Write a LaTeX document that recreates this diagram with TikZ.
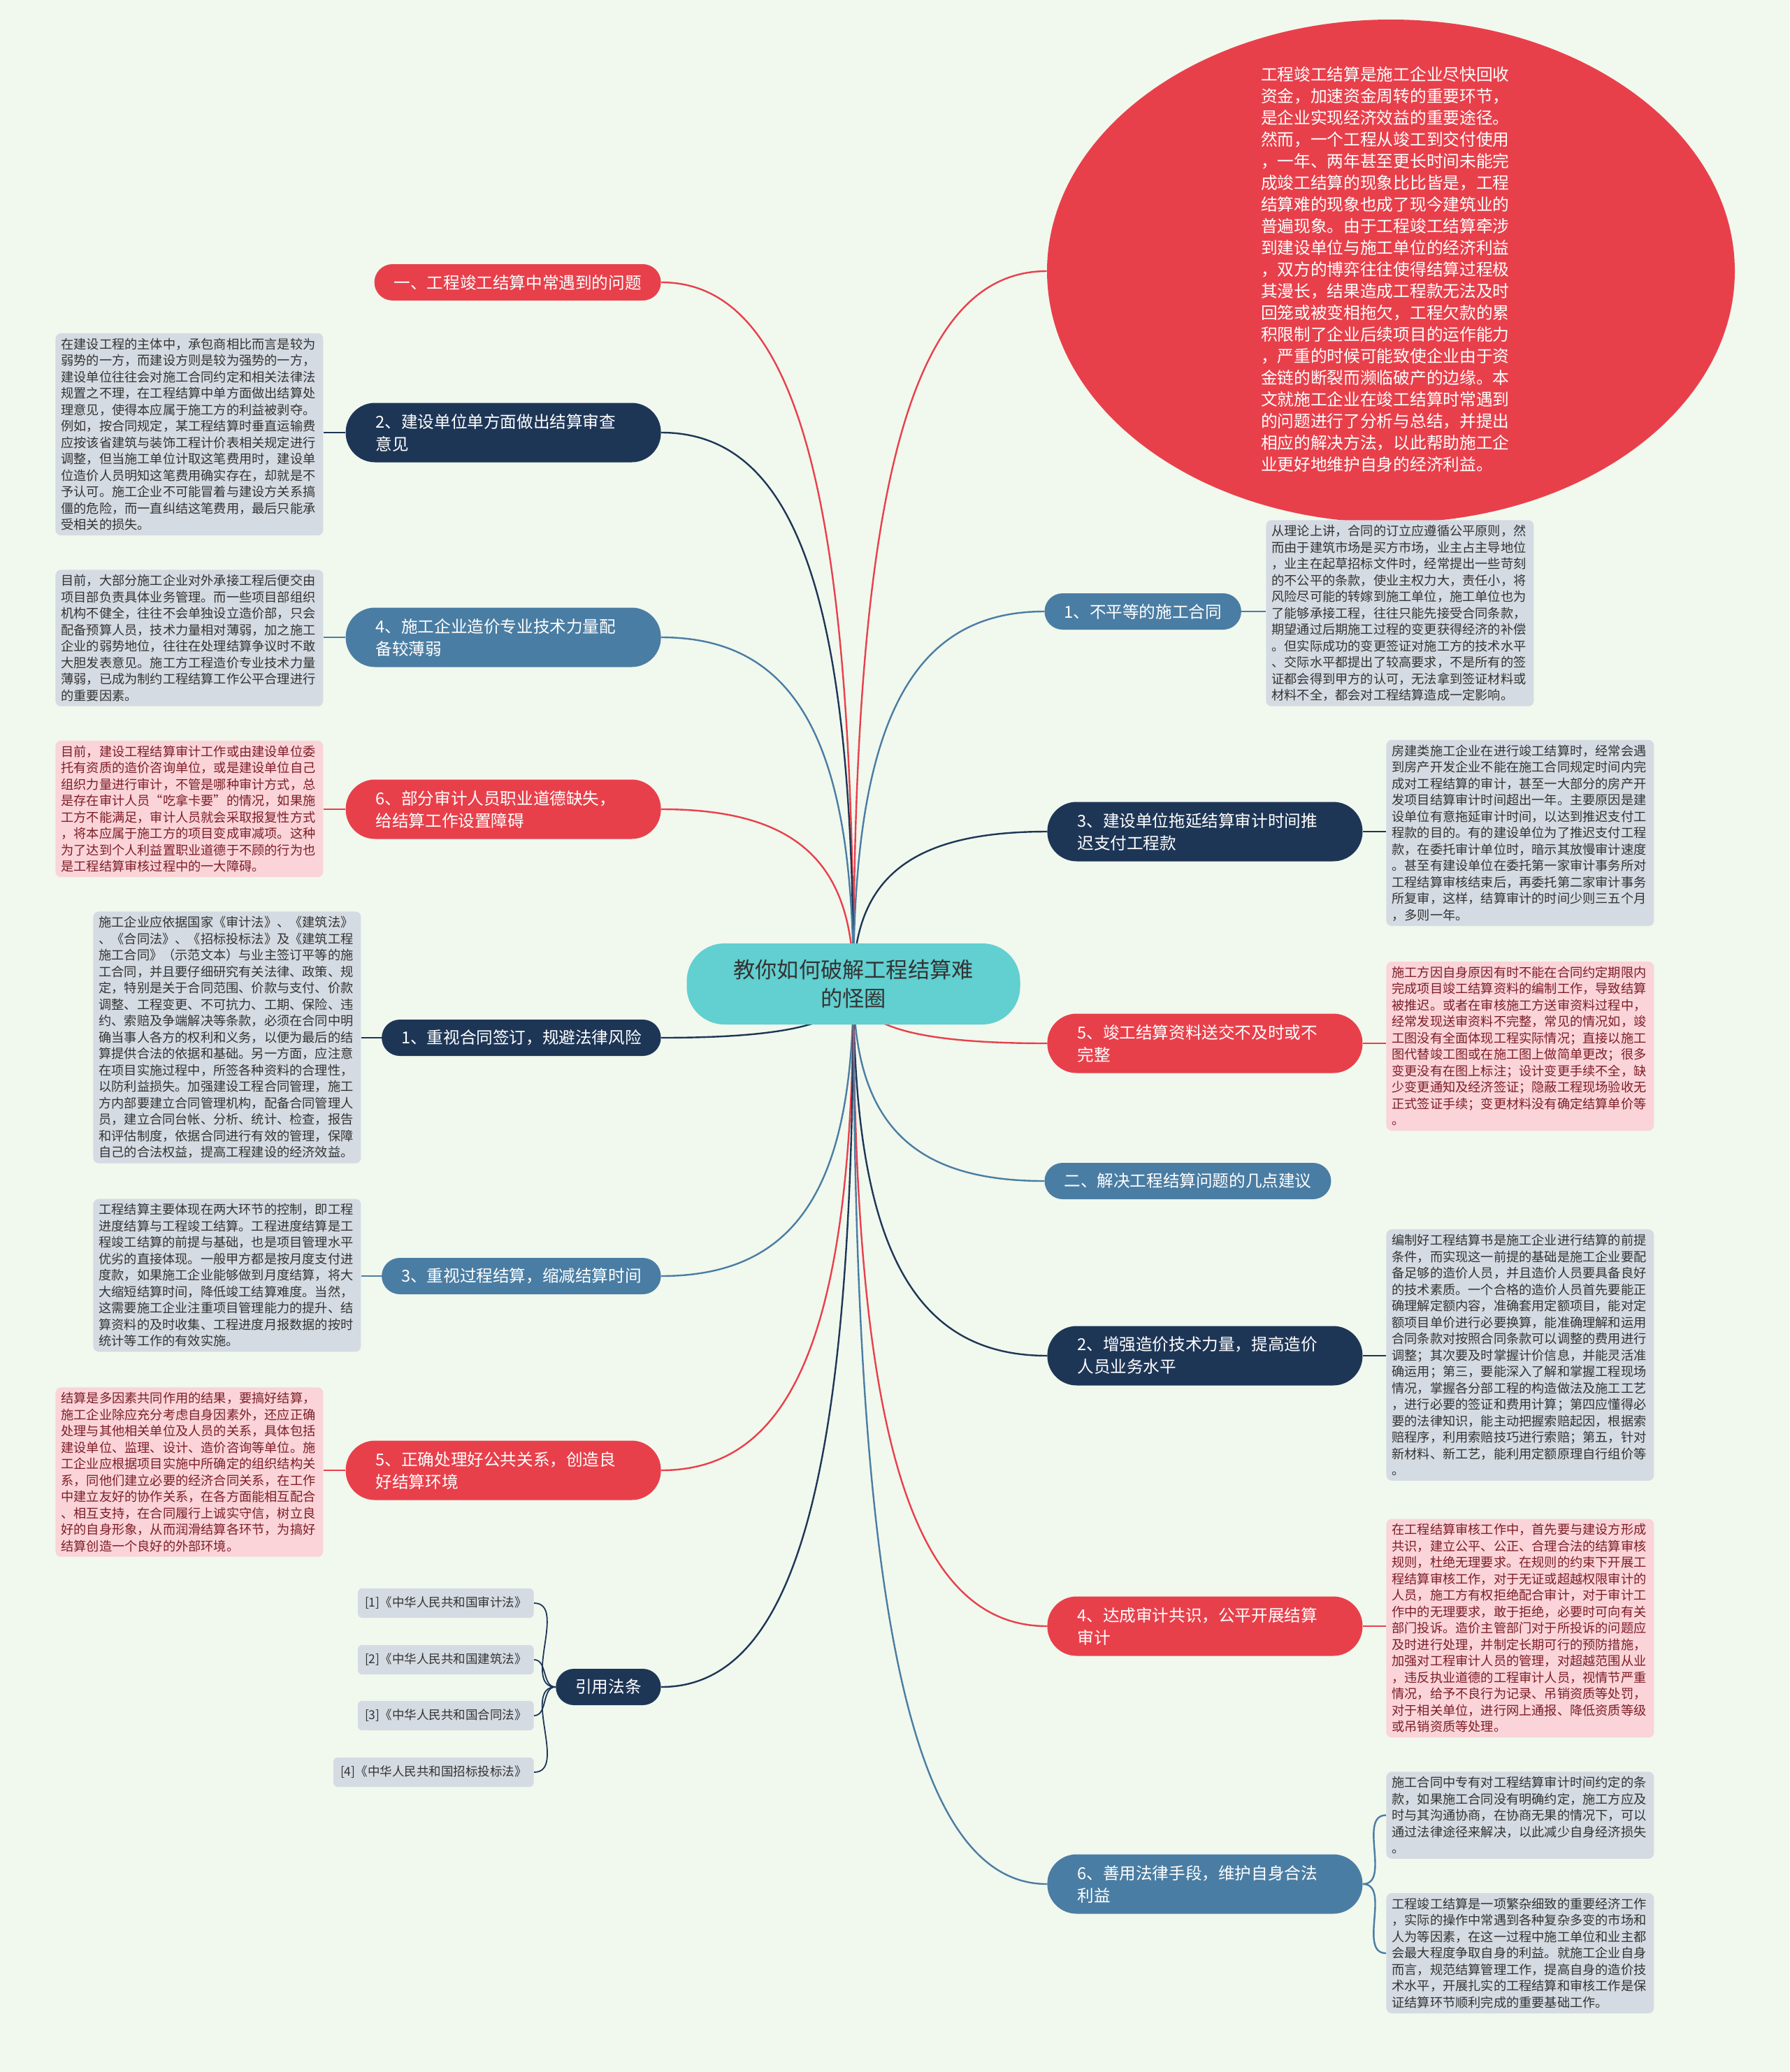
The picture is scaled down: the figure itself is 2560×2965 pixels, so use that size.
\documentclass[tikz,border=0pt]{standalone}
\usepackage{fontspec}
\setmainfont{Noto Sans CJK SC}
\usetikzlibrary{shapes.geometric,calc}
\pgfdeclarelayer{bg}\pgfdeclarelayer{edges}\pgfsetlayers{bg,edges,main}
\definecolor{bgcol}{RGB}{241,248,238}
\definecolor{mred}{RGB}{232,64,75}
\definecolor{mnavy}{RGB}{30,54,86}
\definecolor{mblue}{RGB}{74,125,163}
\definecolor{mteal}{RGB}{98,207,208}
\definecolor{boxgray}{RGB}{213,219,226}
\definecolor{boxpink}{RGB}{250,212,216}
\definecolor{txtgray}{RGB}{51,51,51}
\definecolor{txtpink}{RGB}{125,30,40}
\tikzset{
  pillbase/.style={text=white, font=\fontsize{11.8pt}{16pt}\selectfont, inner ysep=0pt},
  pillone/.style={pillbase, rounded corners=13pt, minimum height=26pt, inner xsep=14pt},
  pilltwo/.style={pillbase, rounded corners=21pt, minimum height=42.5pt, inner xsep=21.5pt, text width=182.5pt, align=left},
  boxbase/.style={rounded corners=4pt, inner xsep=4pt, inner ysep=3.5pt, text width=183.5pt, align=left, font=\fontsize{9.1pt}{11.75pt}\selectfont},
  gbox/.style={boxbase, fill=boxgray, text=txtgray},
  pbox/.style={boxbase, fill=boxpink, text=txtpink},
  refbox/.style={fill=boxgray, text=txtgray, rounded corners=3pt, font=\fontsize{8.75pt}{10pt}\selectfont, minimum height=21pt, inner xsep=5pt, inner ysep=0pt},
  ered/.style={draw=mred, line width=1.2pt},
  enavy/.style={draw=mnavy, line width=1.2pt},
  eblue/.style={draw=mblue, line width=1.2pt},
  ethin/.style={draw=mnavy, line width=0.9pt}
}
\newcommand\myconn[2]{\draw[#1] (c.center) .. controls ($(c.center)!0.7!(c.center|-#2)$) and ($(#2)!0.7!(#2-|c.center)$) .. (#2);}
\begin{document}
\begin{tikzpicture}[x=0.5pt,y=-0.5pt]
\useasboundingbox (0,0) rectangle (2560,2965);
\begin{pgfonlayer}{bg}
\fill[bgcol] (0,0) rectangle (2560,2965);
\end{pgfonlayer}

% center
\node[fill=mteal, text=txtgray, rounded corners=27pt, minimum width=238.5pt, minimum height=58pt, align=center, font=\fontsize{15.6pt}{20.8pt}\selectfont] (c) at (1221,1408) {教你如何破解工程结算难\\的怪圈};

% ellipse
\node[ellipse, fill=mred, minimum width=492pt, minimum height=360pt, inner sep=0pt] (ell) at (1990,388) {};
\node[text=white, text width=180pt, align=left, inner sep=0pt, font=\fontsize{11.85pt}{15.5pt}\selectfont] (elltext) at (1984,385) {工程竣工结算是施工企业尽快回收\\资金，加速资金周转的重要环节，\\是企业实现经济效益的重要途径。\\然而，一个工程从竣工到交付使用\\，一年、两年甚至更长时间未能完\\成竣工结算的现象比比皆是，工程\\结算难的现象也成了现今建筑业的\\普遍现象。由于工程竣工结算牵涉\\到建设单位与施工单位的经济利益\\，双方的博弈往往使得结算过程极\\其漫长，结果造成工程款无法及时\\回笼或被变相拖欠，工程欠款的累\\积限制了企业后续项目的运作能力\\，严重的时候可能致使企业由于资\\金链的断裂而濒临破产的边缘。本\\文就施工企业在竣工结算时常遇到\\的问题进行了分析与总结，并提出\\相应的解决方法，以此帮助施工企\\业更好地维护自身的经济利益。};

% left pills
\node[pillone, fill=mred, anchor=east] (la) at (946,404) {一、工程竣工结算中常遇到的问题};
\node[pilltwo, fill=mnavy, anchor=east] (lb) at (946,619) {2、建设单位单方面做出结算审查\\意见};
\node[pilltwo, fill=mblue, anchor=east] (lc) at (946,912) {4、施工企业造价专业技术力量配\\备较薄弱};
\node[pilltwo, fill=mred, anchor=east] (ld) at (946,1158) {6、部分审计人员职业道德缺失，\\给结算工作设置障碍};
\node[pillone, fill=mnavy, anchor=east] (le) at (946,1485) {1、重视合同签订，规避法律风险};
\node[pillone, fill=mblue, anchor=east] (lf) at (946,1826) {3、重视过程结算，缩减结算时间};
\node[pilltwo, fill=mred, anchor=east] (lg) at (946,2104) {5、正确处理好公共关系，创造良\\好结算环境};
\node[pillone, fill=mnavy, anchor=east] (lh) at (946,2414) {引用法条};

% right pills
\node[pillone, fill=mblue, anchor=west] (rb) at (1494,875) {1、不平等的施工合同};
\node[pilltwo, fill=mnavy, anchor=west] (rc) at (1498,1190) {3、建设单位拖延结算审计时间推\\迟支付工程款};
\node[pilltwo, fill=mred, anchor=west] (rd) at (1498,1493) {5、竣工结算资料送交不及时或不\\完整};
\node[pillone, fill=mblue, anchor=west] (re) at (1494,1690) {二、解决工程结算问题的几点建议};
\node[pilltwo, fill=mnavy, anchor=west] (rf) at (1498,1940) {2、增强造价技术力量，提高造价\\人员业务水平};
\node[pilltwo, fill=mred, anchor=west] (rg) at (1498,2327) {4、达成审计共识，公平开展结算\\审计};
\node[pilltwo, fill=mblue, anchor=west] (rh) at (1498,2696) {6、善用法律手段，维护自身合法\\利益};

% left text boxes
\node[gbox, anchor=west] (lbx) at (79,621.5) {在建设工程的主体中，承包商相比而言是较为\\弱势的一方，而建设方则是较为强势的一方，\\建设单位往往会对施工合同约定和相关法律法\\规置之不理，在工程结算中单方面做出结算处\\理意见，使得本应属于施工方的利益被剥夺。\\例如，按合同规定，某工程结算时垂直运输费\\应按该省建筑与装饰工程计价表相关规定进行\\调整，但当施工单位计取这笔费用时，建设单\\位造价人员明知这笔费用确实存在，却就是不\\予认可。施工企业不可能冒着与建设方关系搞\\僵的危险，而一直纠结这笔费用，最后只能承\\受相关的损失。};
\node[gbox, anchor=west] (lcx) at (79,913) {目前，大部分施工企业对外承接工程后便交由\\项目部负责具体业务管理。而一些项目部组织\\机构不健全，往往不会单独设立造价部，只会\\配备预算人员，技术力量相对薄弱，加之施工\\企业的弱势地位，往往在处理结算争议时不敢\\大胆发表意见。施工方工程造价专业技术力量\\薄弱，已成为制约工程结算工作公平合理进行\\的重要因素。};
\node[pbox, anchor=west] (ldx) at (79,1157.5) {目前，建设工程结算审计工作或由建设单位委\\托有资质的造价咨询单位，或是建设单位自己\\组织力量进行审计，不管是哪种审计方式，总\\是存在审计人员“吃拿卡要”的情况，如果施\\工方不能满足，审计人员就会采取报复性方式\\，将本应属于施工方的项目变成审减项。这种\\为了达到个人利益置职业道德于不顾的行为也\\是工程结算审核过程中的一大障碍。};
\node[gbox, anchor=west] (lex) at (133,1484.5) {施工企业应依据国家《审计法》、《建筑法》\\、《合同法》、《招标投标法》及《建筑工程\\施工合同》（示范文本）与业主签订平等的施\\工合同，并且要仔细研究有关法律、政策、规\\定，特别是关于合同范围、价款与支付、价款\\调整、工程变更、不可抗力、工期、保险、违\\约、索赔及争端解决等条款，必须在合同中明\\确当事人各方的权利和义务，以便为最后的结\\算提供合法的依据和基础。另一方面，应注意\\在项目实施过程中，所签各种资料的合理性，\\以防利益损失。加强建设工程合同管理，施工\\方内部要建立合同管理机构，配备合同管理人\\员，建立合同台帐、分析、统计、检查，报告\\和评估制度，依据合同进行有效的管理，保障\\自己的合法权益，提高工程建设的经济效益。};
\node[gbox, anchor=west] (lfx) at (133,1825) {工程结算主要体现在两大环节的控制，即工程\\进度结算与工程竣工结算。工程进度结算是工\\程竣工结算的前提与基础，也是项目管理水平\\优劣的直接体现。一般甲方都是按月度支付进\\度款，如果施工企业能够做到月度结算，将大\\大缩短结算时间，降低竣工结算难度。当然，\\这需要施工企业注重项目管理能力的提升、结\\算资料的及时收集、工程进度月报数据的按时\\统计等工作的有效实施。};
\node[pbox, anchor=west] (lgx) at (79,2106.5) {结算是多因素共同作用的结果，要搞好结算，\\施工企业除应充分考虑自身因素外，还应正确\\处理与其他相关单位及人员的关系，具体包括\\建设单位、监理、设计、造价咨询等单位。施\\工企业应根据项目实施中所确定的组织结构关\\系，同他们建立必要的经济合同关系，在工作\\中建立友好的协作关系，在各方面能相互配合\\、相互支持，在合同履行上诚实守信，树立良\\好的自身形象，从而润滑结算各环节，为搞好\\结算创造一个良好的外部环境。};

% references
\node[refbox, anchor=east] (r1) at (764,2294) {[1]《中华人民共和国审计法》};
\node[refbox, anchor=east] (r2) at (764,2375) {[2]《中华人民共和国建筑法》};
\node[refbox, anchor=east] (r3) at (764,2455) {[3]《中华人民共和国合同法》};
\node[refbox, anchor=east] (r4) at (764,2536) {[4]《中华人民共和国招标投标法》};

% right text boxes
\node[gbox, anchor=west] (rbx) at (1811,877.5) {从理论上讲，合同的订立应遵循公平原则，然\\而由于建筑市场是买方市场，业主占主导地位\\，业主在起草招标文件时，经常提出一些苛刻\\的不公平的条款，使业主权力大，责任小，将\\风险尽可能的转嫁到施工单位，施工单位也为\\了能够承接工程，往往只能先接受合同条款，\\期望通过后期施工过程的变更获得经济的补偿\\。但实际成功的变更签证对施工方的技术水平\\、交际水平都提出了较高要求，不是所有的签\\证都会得到甲方的认可，无法拿到签证材料或\\材料不全，都会对工程结算造成一定影响。};
\node[gbox, anchor=west] (rcx) at (1983,1192) {房建类施工企业在进行竣工结算时，经常会遇\\到房产开发企业不能在施工合同规定时间内完\\成对工程结算的审计，甚至一大部分的房产开\\发项目结算审计时间超出一年。主要原因是建\\设单位有意拖延审计时间，以达到推迟支付工\\程款的目的。有的建设单位为了推迟支付工程\\款，在委托审计单位时，暗示其放慢审计速度\\。甚至有建设单位在委托第一家审计事务所对\\工程结算审核结束后，再委托第二家审计事务\\所复审，这样，结算审计的时间少则三五个月\\，多则一年。};
\node[pbox, anchor=west] (rdx) at (1983,1497) {施工方因自身原因有时不能在合同约定期限内\\完成项目竣工结算资料的编制工作，导致结算\\被推迟。或者在审核施工方送审资料过程中，\\经常发现送审资料不完整，常见的情况如，竣\\工图没有全面体现工程实际情况；直接以施工\\图代替竣工图或在施工图上做简单更改；很多\\变更没有在图上标注；设计变更手续不全，缺\\少变更通知及经济签证；隐蔽工程现场验收无\\正式签证手续；变更材料没有确定结算单价等\\。};
\node[gbox, anchor=west] (rfx) at (1983,1939) {编制好工程结算书是施工企业进行结算的前提\\条件，而实现这一前提的基础是施工企业要配\\备足够的造价人员，并且造价人员要具备良好\\的技术素质。一个合格的造价人员首先要能正\\确理解定额内容，准确套用定额项目，能对定\\额项目单价进行必要换算，能准确理解和运用\\合同条款对按照合同条款可以调整的费用进行\\调整；其次要及时掌握计价信息，并能灵活准\\确运用；第三，要能深入了解和掌握工程现场\\情况，掌握各分部工程的构造做法及施工工艺\\，进行必要的签证和费用计算；第四应懂得必\\要的法律知识，能主动把握索赔起因，根据索\\赔程序，利用索赔技巧进行索赔；第五，针对\\新材料、新工艺，能利用定额原理自行组价等\\。};
\node[pbox, anchor=west] (rgx) at (1983,2330) {在工程结算审核工作中，首先要与建设方形成\\共识，建立公平、公正、合理合法的结算审核\\规则，杜绝无理要求。在规则的约束下开展工\\程结算审核工作，对于无证或超越权限审计的\\人员，施工方有权拒绝配合审计，对于审计工\\作中的无理要求，敢于拒绝，必要时可向有关\\部门投诉。造价主管部门对于所投诉的问题应\\及时进行处理，并制定长期可行的预防措施，\\加强对工程审计人员的管理，对超越范围从业\\，违反执业道德的工程审计人员，视情节严重\\情况，给予不良行为记录、吊销资质等处罚，\\对于相关单位，进行网上通报、降低资质等级\\或吊销资质等处理。};
\node[gbox, anchor=west] (rhx) at (1983,2597.5) {施工合同中专有对工程结算审计时间约定的条\\款，如果施工合同没有明确约定，施工方应及\\时与其沟通协商，在协商无果的情况下，可以\\通过法律途径来解决，以此减少自身经济损失\\。};
\node[gbox, anchor=west] (rhy) at (1983,2795) {工程竣工结算是一项繁杂细致的重要经济工作\\，实际的操作中常遇到各种复杂多变的市场和\\人为等因素，在这一过程中施工单位和业主都\\会最大程度争取自身的利益。就施工企业自身\\而言，规范结算管理工作，提高自身的造价技\\术水平，开展扎实的工程结算和审核工作是保\\证结算环节顺利完成的重要基础工作。};

% connectors
\begin{pgfonlayer}{edges}
\myconn{ered}{ell.west}
\myconn{ered}{la.east}
\myconn{enavy}{lb.east}
\myconn{eblue}{lc.east}
\myconn{ered}{ld.east}
\myconn{enavy}{le.east}
\myconn{eblue}{lf.east}
\myconn{ered}{lg.east}
\myconn{enavy}{lh.east}
\myconn{eblue}{rb.west}
\myconn{enavy}{rc.west}
\myconn{ered}{rd.west}
\myconn{eblue}{re.west}
\myconn{enavy}{rf.west}
\myconn{ered}{rg.west}
\myconn{eblue}{rh.west}
\draw[enavy] (lb.west) -- (lb.west-|lbx.east);
\draw[eblue] (lc.west) -- (lc.west-|lcx.east);
\draw[ered] (ld.west) -- (ld.west-|ldx.east);
\draw[enavy] (le.west) -- (le.west-|lex.east);
\draw[eblue] (lf.west) -- (lf.west-|lfx.east);
\draw[ered] (lg.west) -- (lg.west-|lgx.east);
\draw[eblue] (rb.east) -- (rb.east-|rbx.west);
\draw[enavy] (rc.east) -- (rc.east-|rcx.west);
\draw[ered] (rd.east) -- (rd.east-|rdx.west);
\draw[enavy] (rf.east) -- (rf.east-|rfx.west);
\draw[ered] (rg.east) -- (rg.east-|rgx.west);
\draw[eblue] (rh.east) to[out=0,in=180] (rhx.west);
\draw[eblue] (rh.east) to[out=0,in=180] (rhy.west);
\draw[ethin] (lh.west) to[out=180,in=0] (r1.east);
\draw[ethin] (lh.west) to[out=180,in=0] (r2.east);
\draw[ethin] (lh.west) to[out=180,in=0] (r3.east);
\draw[ethin] (lh.west) to[out=180,in=0] (r4.east);
\end{pgfonlayer}
\end{tikzpicture}
\end{document}
